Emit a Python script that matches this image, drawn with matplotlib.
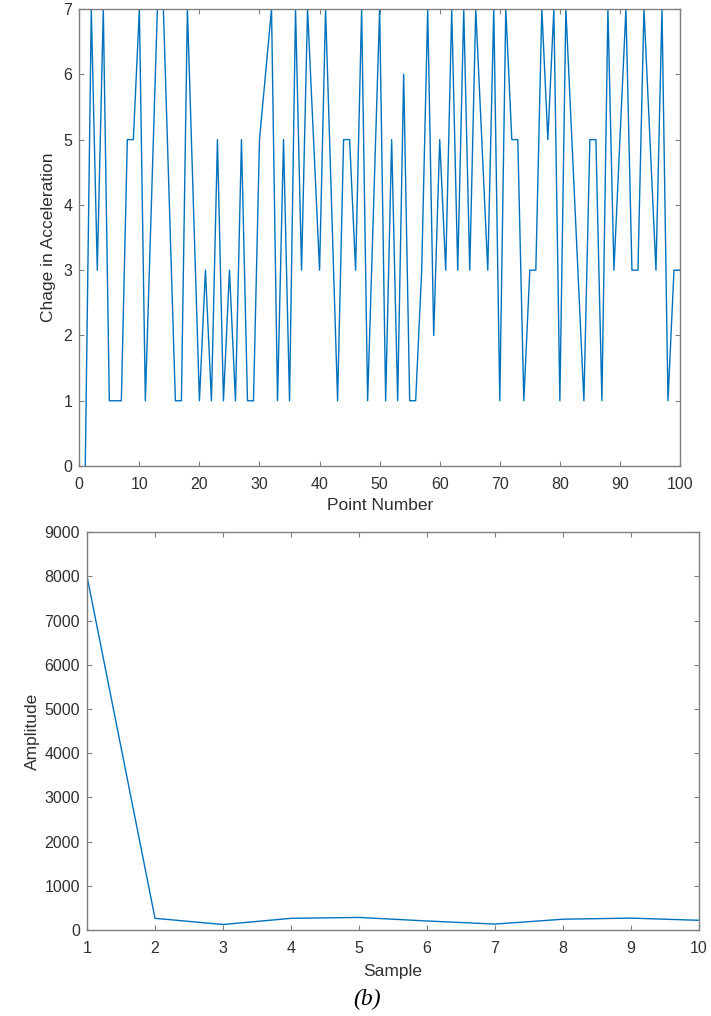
import numpy as np
import matplotlib
matplotlib.use("Agg")
import matplotlib.pyplot as plt

# change in acceleration per point (points 1..100)
accel_change = [0, 7, 3, 7, 1, 1, 1, 5, 5, 7,
                1, 4, 7, 7, 4, 1, 1, 7, 4, 1,
                3, 1, 5, 1, 3, 1, 5, 1, 1, 5,
                6, 7, 1, 5, 1, 7, 3, 7, 5, 3,
                7, 4, 1, 5, 5, 3, 7, 1, 4, 7,
                1, 5, 1, 6, 1, 1, 3, 7, 2, 5,
                3, 7, 3, 7, 3, 7, 5, 3, 7, 1,
                7, 5, 5, 1, 3, 3, 7, 5, 7, 1,
                7, 5, 3, 1, 5, 5, 1, 7, 3, 5,
                7, 3, 3, 7, 5, 3, 7, 1, 3, 3]
point_number = np.arange(1, len(accel_change) + 1)

# amplitude per sample
sample = np.arange(1, 11)
amplitude = [8000, 265, 125, 265, 285, 205, 135, 245, 270, 220]

LINE_COLOR = "#0072BD"
AXIS_COLOR = "#808080"
TEXT_COLOR = "#303030"

plt.rcParams["font.family"] = ["Liberation Sans", "DejaVu Sans"]

fig = plt.figure(figsize=(7.11, 10.16), dpi=100)


def estilo_eixo(ax):
    for sp in ax.spines.values():
        sp.set_color(AXIS_COLOR)
        sp.set_linewidth(1.0)
    ax.tick_params(direction="in", top=True, right=True, length=3.5, width=0.8,
                   color=AXIS_COLOR, labelcolor=TEXT_COLOR, labelsize=11.5, pad=5)
    ax.tick_params(axis="x", pad=8)


# painel superior
ax1 = fig.add_axes([0.1115, 0.5413, 0.8449, 0.4498])
ax1.plot(point_number, accel_change, color=LINE_COLOR, linewidth=1.0)
ax1.set_xlim(0, 100)
ax1.set_ylim(0, 7)
ax1.set_xticks(np.arange(0, 101, 10))
ax1.set_yticks(np.arange(0, 8, 1))
ax1.set_xlabel("Point Number", fontsize=12.5, color=TEXT_COLOR, labelpad=4)
ax1.set_ylabel("Chage in Acceleration", fontsize=12.5, color=TEXT_COLOR, labelpad=5)
estilo_eixo(ax1)

# painel inferior
ax2 = fig.add_axes([0.1224, 0.0846, 0.8608, 0.3917])
ax2.plot(sample, amplitude, color=LINE_COLOR, linewidth=1.0)
ax2.set_xlim(1, 10)
ax2.set_ylim(0, 9000)
ax2.set_xticks(sample)
ax2.set_yticks(np.arange(0, 9001, 1000))
ax2.set_xlabel("Sample", fontsize=12.5, color=TEXT_COLOR, labelpad=6)
ax2.set_ylabel("Amplitude", fontsize=12.5, color=TEXT_COLOR, labelpad=3)
estilo_eixo(ax2)

fig.text(0.516, 0.016, "(b)", family="Liberation Serif", style="italic",
         fontsize=17, color="black", ha="center", va="center")

fig.savefig("out.png", dpi=100)
